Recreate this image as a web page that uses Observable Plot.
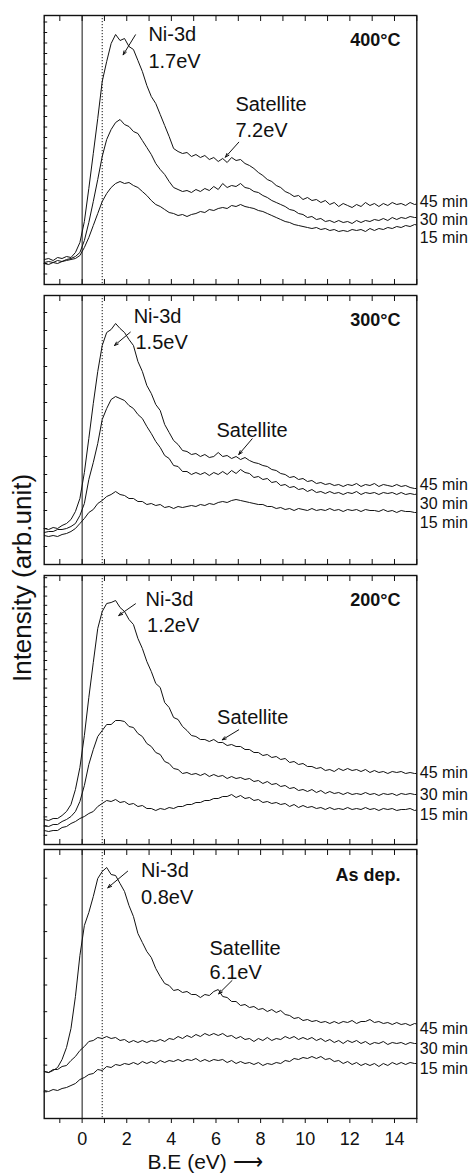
<!DOCTYPE html>
<html><head><meta charset="utf-8">
<script src="https://cdn.jsdelivr.net/npm/d3@7"></script>
<script src="https://cdn.jsdelivr.net/npm/@observablehq/plot@0.6"></script>
<style>
html,body{margin:0;padding:0;background:#fff;}
#wrap{position:relative;width:473px;height:1174px;overflow:hidden;font-family:"Liberation Sans",Arial,Helvetica,sans-serif;color:#111;}
#wrap svg{position:absolute;left:0;}
#ylab{position:absolute;left:22px;top:578px;transform:translate(-50%,-50%) rotate(-90deg);font-size:26px;white-space:nowrap;}
</style></head><body>
<div id="wrap"><div id="ylab">Intensity (arb.unit)</div></div>
<script>
// ---- data ----
const energyStart = -1.7, energyStep = 0.2;   // B.E sampling grid (eV)
const panelNames = ["400°C", "300°C", "200°C", "As dep."];
const timeNames = ["45 min", "30 min", "15 min"];
const xTickValues = [0, 2, 4, 6, 8, 10, 12, 14];
const xMinorTicks = [-1, 0, 1, 2, 3, 4, 5, 6, 7, 8, 9, 10, 11, 12, 13, 14, 15];
const zeroLine = [0];
const dottedLine = [0.9];

const p400_45 = [25,26,24,27,26,28,27,32,42,63,
  96,131,166,203,223,241,250,244,246,238,
  235,224,213,199,188,181,170,159,148,136,
  133,131,132,128,130,127,129,125,127,123,
  126,122,127,124,125,121,119,116,112,109,
  105,103,99,97,93,91,88,89,85,87,
  84,85,82,84,80,82,78,81,79,77,
  80,78,82,79,81,78,81,79,82,80,
  81,79,82,80,81];
const p400_30 = [22,23,22,24,23,25,26,28,32,44,
  62,83,105,128,145,155,162,165,160,158,
  153,151,144,137,130,121,115,110,103,97,
  95,93,94,92,95,93,96,94,98,95,
  101,97,99,98,101,97,96,93,92,89,
  87,84,82,80,78,75,74,71,70,67,
  68,65,66,63,64,62,64,62,63,61,
  64,62,64,63,65,64,66,64,67,65,
  67,66,68,67,67];
const p400_15 = [21,20,22,21,23,24,25,26,29,37,
  47,59,71,83,91,97,101,103,101,102,
  99,97,93,89,84,80,78,75,72,71,
  69,70,68,70,71,73,72,75,74,76,
  77,76,79,78,80,78,77,76,74,73,
  71,69,67,65,63,62,60,59,58,57,
  56,57,55,56,54,55,53,54,53,55,
  54,55,53,56,54,56,55,57,56,58,
  57,59,58,60,59];

const p300_45 = [36,35,37,36,39,41,45,53,66,92,
  126,161,193,219,232,235,241,236,232,225,
  219,203,193,179,171,160,154,140,132,124,
  120,114,113,110,111,108,110,107,108,112,
  108,109,106,108,105,107,104,102,101,99,
  98,95,94,91,90,87,88,85,86,83,
  84,81,82,80,81,79,80,78,80,79,
  81,78,80,79,81,78,80,79,78,80,
  78,79,77,76,76];
const p300_30 = [32,33,33,35,35,36,38,41,49,61,
  85,102,121,145,156,165,168,166,164,159,
  156,150,146,138,131,123,117,109,106,99,
  98,93,93,90,92,90,92,89,92,90,
  93,90,94,91,95,92,91,87,88,85,
  86,82,83,79,80,77,78,75,76,73,
  75,72,73,71,73,71,72,70,72,71,
  73,70,72,71,72,70,72,71,72,70,
  72,70,71,70,71];
const p300_15 = [29,28,29,28,30,31,33,36,41,46,
  52,55,61,64,68,70,73,70,69,66,
  66,63,63,60,61,59,60,57,58,56,
  58,57,58,59,58,60,59,61,60,62,
  63,62,64,65,64,63,62,61,60,60,
  58,58,56,57,55,56,54,56,55,54,
  56,54,55,54,56,54,55,53,55,54,
  55,53,55,54,54,53,55,53,54,52,
  54,53,53,52,52];

const p200_45 = [25,24,26,26,29,33,40,55,77,109,
  147,182,216,233,241,242,244,237,233,225,
  220,206,196,183,173,161,157,142,137,127,
  125,118,114,109,108,105,105,103,105,102,
  102,99,100,98,98,95,95,92,92,89,
  90,87,88,85,86,82,83,80,81,78,
  78,76,77,74,75,73,76,74,76,74,
  75,73,75,72,74,72,73,71,73,72,
  73,71,72,71,71];
const p200_30 = [19,18,20,20,23,25,28,33,43,59,
  80,95,108,114,120,120,124,124,123,118,
  117,111,108,101,98,92,90,83,81,76,
  75,71,72,70,71,69,71,68,70,68,
  69,66,68,66,67,65,66,63,64,61,
  63,60,61,58,59,56,57,54,55,53,
  55,52,54,51,53,51,52,50,52,50,
  51,50,52,50,51,49,51,50,51,49,
  51,50,51,50,50];
const p200_15 = [14,13,14,14,17,18,21,23,26,28,
  31,33,38,41,44,43,45,42,43,40,
  41,38,39,36,36,34,36,35,37,36,
  38,38,40,40,42,42,44,44,46,46,
  48,48,50,47,49,46,47,44,45,42,
  43,41,42,40,41,38,40,37,39,37,
  38,36,37,35,37,35,36,35,37,35,
  36,35,37,35,36,34,36,35,36,34,
  35,35,36,34,35];

const pAs_45 = [47,46,48,51,59,71,90,122,163,193,
  206,222,240,247,251,244,243,235,227,213,
  202,185,176,167,161,150,142,135,133,128,
  129,126,127,124,124,121,124,123,127,129,
  122,121,117,117,113,114,111,112,109,110,
  107,109,106,108,104,103,100,101,98,99,
  97,98,96,97,95,97,95,97,96,98,
  95,97,97,99,96,97,95,96,94,96,
  94,95,93,95,94];
const pAs_30 = [47,46,49,49,52,53,58,62,68,72,
  77,78,81,80,82,80,81,78,79,76,
  78,76,78,76,78,77,79,77,80,79,
  82,80,83,81,84,82,85,83,85,83,
  85,82,83,80,82,79,80,77,80,78,
  81,78,80,79,82,80,82,79,81,79,
  81,78,80,77,79,76,78,75,78,76,
  78,75,77,74,76,75,77,74,76,75,
  76,74,76,75,75];
const pAs_15 = [28,27,29,28,30,31,33,35,39,41,
  44,45,49,48,52,51,54,53,55,54,
  56,54,57,55,57,55,58,56,58,57,
  59,57,59,58,60,57,59,57,59,58,
  59,56,58,55,57,55,56,54,56,53,
  55,54,56,55,58,57,60,59,61,60,
  62,60,62,59,60,57,58,55,57,54,
  56,53,55,53,55,52,55,53,56,54,
  56,54,56,55,55];

const seriesByPanel = [
  [p400_45, p400_30, p400_15],
  [p300_45, p300_30, p300_15],
  [p200_45, p200_30, p200_15],
  [pAs_45, pAs_30, pAs_15]
];

// annotation texts and their anchors (eV, intensity)
const annoPanel = [0,0,0,0, 1,1,1, 2,2,2, 3,3,3,3];
const annoText = ["Ni-3d","1.7eV","Satellite","7.2eV", "Ni-3d","1.5eV","Satellite", "Ni-3d","1.2eV","Satellite", "Ni-3d","0.8eV","Satellite","6.1eV"];
const annoE = [2.97,2.97,6.87,6.87, 2.31,2.39,6.02, 2.84,2.91,6.05, 2.64,2.64,5.71,5.71];
const annoI = [244,217,174,148, 241.7,215.7,127.3, 239,212.3,120.7, 242,214.7,164,139.7];
// arrows: panel, from (E1,I1) to (E2,I2)
const arrowPanel = [0,0,1,1,2,2,3,3];
const arrowE1 = [2.39,7.02, 2.16,7.62, 2.39,7.02, 2.04,6.72];
const arrowI1 = [249.7,142.3, 232.3,125.7, 240.7,114.7, 247.3,138];
const arrowE2 = [1.84,6.42, 1.45,7.02, 1.64,6.28, 1.15,6.12];
const arrowI2 = [229.7,127.3, 219,110, 229,104.7, 230.7,124.7];
const timeLabelI = [[78,60,42],[75,56,37],[67,45,25],[85,65,45]];
const panelLabelE = 14.27;
const panelLabelI = [239,239,239,238];

// ---- layout ----
const panelTops = [15, 295, 575, 849], PH = 269, W = 473, ML = 43.7, MR = 56.7, MT = 8;
const yTickStep = [10.5, 18, 9.2, 26.7];
const font = '"Liberation Sans", Arial, Helvetica, sans-serif';
const ink = "#111";
const wrap = document.getElementById("wrap");

const annotations = annoText.map((text, i) => ({panel: annoPanel[i], text, E: annoE[i], I: annoI[i]}));
const arrowsData = arrowPanel.map((panel, i) => ({panel, E1: arrowE1[i], I1: arrowI1[i], E2: arrowE2[i], I2: arrowI2[i]}));

seriesByPanel.forEach((series, p) => {
  const last = p === 3;
  const MB = last ? 1174 - panelTops[p] - PH : 8;
  const rows = series.flatMap((vals, s) => vals.map((v, i) => ({E: energyStart + energyStep * i, I: v, t: timeNames[s]})));
  const ends = timeNames.map((t, s) => ({E: 15, I: timeLabelI[p][s], t}));
  const title = [{E: panelLabelE, I: panelLabelI[p], text: panelNames[p]}];
  const marks = [
    Plot.ruleX(zeroLine, {stroke: ink, strokeWidth: 1}),
    Plot.ruleX(dottedLine, {stroke: ink, strokeWidth: 1, strokeDasharray: "1.2,1.8"}),
    Plot.line(rows, {x: "E", y: "I", z: "t", stroke: ink, strokeWidth: 1, clip: true}),
    Plot.axisY({ticks: d3.range(yTickStep[p], PH - 2, yTickStep[p]), tickSize: -3.5, tickFormat: () => "", label: null}),
    Plot.axisX({anchor: "top", ticks: xMinorTicks, tickSize: -5, tickFormat: () => "", label: null}),
    Plot.axisX({anchor: "bottom", ticks: xMinorTicks, tickSize: last ? 5 : -5, tickFormat: () => "", label: null}),
    Plot.frame({stroke: ink, strokeWidth: 1.4}),
    Plot.arrow(arrowsData.filter(d => d.panel === p), {x1: "E1", y1: "I1", x2: "E2", y2: "I2", stroke: ink, strokeWidth: 1, headLength: 6, headAngle: 40}),
    Plot.text(annotations.filter(d => d.panel === p), {x: "E", y: "I", text: "text", textAnchor: "start", lineAnchor: "bottom", fontSize: 20, fill: ink}),
    Plot.text(title, {x: "E", y: "I", text: "text", textAnchor: "end", lineAnchor: "bottom", fontSize: 18, fontWeight: "bold", fill: ink}),
    Plot.text(ends, {x: "E", y: "I", text: "t", textAnchor: "start", lineAnchor: "bottom", dx: 3, fontSize: 16, fill: ink})
  ];
  if (last) {
    marks.push(
      Plot.axisX({anchor: "bottom", ticks: xTickValues, tickSize: 0, tickPadding: 14, fontSize: 18, label: null, fill: ink}),
      Plot.text(["B.E (eV) ⟶"], {frameAnchor: "bottom-left", dx: 103.3, dy: 50, textAnchor: "start", lineAnchor: "bottom", fontSize: 21, fill: ink})
    );
  }
  const svg = Plot.plot({
    width: W, height: MT + PH + MB,
    marginLeft: ML, marginRight: MR, marginTop: MT, marginBottom: MB,
    x: {domain: [-1.7, 15], label: null},
    y: {domain: [0, PH], label: null},
    style: {background: "none", color: ink, fontFamily: font, fontSize: "18px", overflow: "visible"},
    marks
  });
  svg.style.top = (panelTops[p] - MT) + "px";
  wrap.appendChild(svg);
});
</script></body></html>
